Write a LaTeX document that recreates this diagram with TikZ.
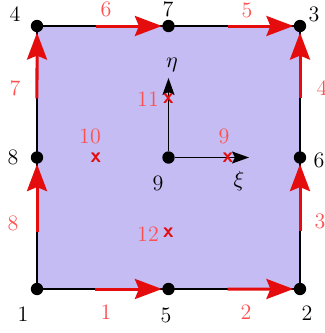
\documentclass[tikz,border=0pt]{standalone}
\usetikzlibrary{arrows.meta,calc}
\definecolor{quadfill}{RGB}{196,188,242}
\definecolor{arrowred}{RGB}{228,12,12}
\definecolor{labred}{RGB}{255,80,80}
\begin{document}
\begin{tikzpicture}[x=0.5pt,y=-0.5pt,
  dot/.style={circle,fill=black,inner sep=0pt,minimum size=6.2pt},
  edgeline/.style={line width=1pt},
  redarr/.style={draw=arrowred,line width=1.5pt,-{Stealth[length=13.5pt,width=10pt,inset=2pt]}},
  axisarr/.style={line width=0.75pt,-{Stealth[length=8.5pt,width=6pt,inset=1.5pt]}},
  lab/.style={font=\fontsize{11}{13}\selectfont,inner sep=0pt},
  rlab/.style={lab,text=labred},
  gpt/.style={text=arrowred,font=\fontsize{10.5}{10.5}\selectfont\sffamily\bfseries,inner sep=0pt}]
\useasboundingbox (0,0) rectangle (325,333);
% positions
\coordinate (c1) at (37,289);
\coordinate (c2) at (300,289);
\coordinate (c3) at (300,26);
\coordinate (c4) at (37,26);
\coordinate (c5) at (168.5,289);
\coordinate (c6) at (300,157.5);
\coordinate (c7) at (168.5,26);
\coordinate (c8) at (37,157.5);
\coordinate (c9) at (168.5,157.5);
\coordinate (xi) at (249,157.5);
\coordinate (eta) at (168.5,78);
% element
\fill[quadfill] (c1) rectangle (c3);
\draw[edgeline] (c1) -- (c5) -- (c2) -- (c6) -- (c3) -- (c7) -- (c4) -- (c8) -- (c1);
% nodes
\foreach \i in {1,...,9} {\node[dot] (n\i) at (c\i) {};}
% local axes
\draw[axisarr] (n9) -- (xi);
\draw[axisarr] (n9) -- (eta);
\node[lab] (lxi) at (239,181) {$\xi$};
\node[lab] (leta) at (172,65) {$\eta$};
% red edge arrows
\draw[redarr] ($(c1)!0.44!(c5)$) -- (n5);
\draw[redarr] ($(c5)!0.45!(c2)$) -- (n2);
\draw[redarr] ($(c2)!0.44!(c6)$) -- (n6);
\draw[redarr] ($(c6)!0.45!(c3)$) -- (n3);
\draw[redarr] ($(c4)!0.45!(c7)$) -- (n7);
\draw[redarr] ($(c7)!0.45!(c3)$) -- (n3);
\draw[redarr] ($(c8)!0.45!(c4)$) -- (n4);
\draw[redarr] ($(c1)!0.43!(c8)$) -- (n8);
% node numbers
\node[lab] (t1) at (23,314) {1};
\node[lab] (t2) at (307,313) {2};
\node[lab] (t3) at (314,14) {3};
\node[lab] (t4) at (15,14) {4};
\node[lab] (t5) at (166,315) {5};
\node[lab] (t6) at (319,160) {6};
\node[lab] (t7) at (168,9) {7};
\node[lab] (t8) at (13,157) {8};
\node[lab] (t9) at (158,183) {9};
% edge dof numbers
\node[rlab] (r1) at (106,312) {1};
\node[rlab] (r2) at (246,312) {2};
\node[rlab] (r3) at (320,221) {3};
\node[rlab] (r4) at (322,88) {4};
\node[rlab] (r5) at (247,10) {5};
\node[rlab] (r6) at (106,9) {6};
\node[rlab] (r7) at (15,88) {7};
\node[rlab] (r8) at (13,223) {8};
% interior points
\node[gpt] (g9) at (228,158) {x};
\node[gpt] (g10) at (96,157.5) {x};
\node[gpt] (g11) at (168.5,99) {x};
\node[gpt] (g12) at (168.5,233) {x};
\node[rlab] (r9) at (224,136) {9};
\node[rlab] (r10) at (90,136) {10};
\node[rlab] (r11) at (148,99) {11};
\node[rlab] (r12) at (148,234) {12};
\end{tikzpicture}
\end{document}
